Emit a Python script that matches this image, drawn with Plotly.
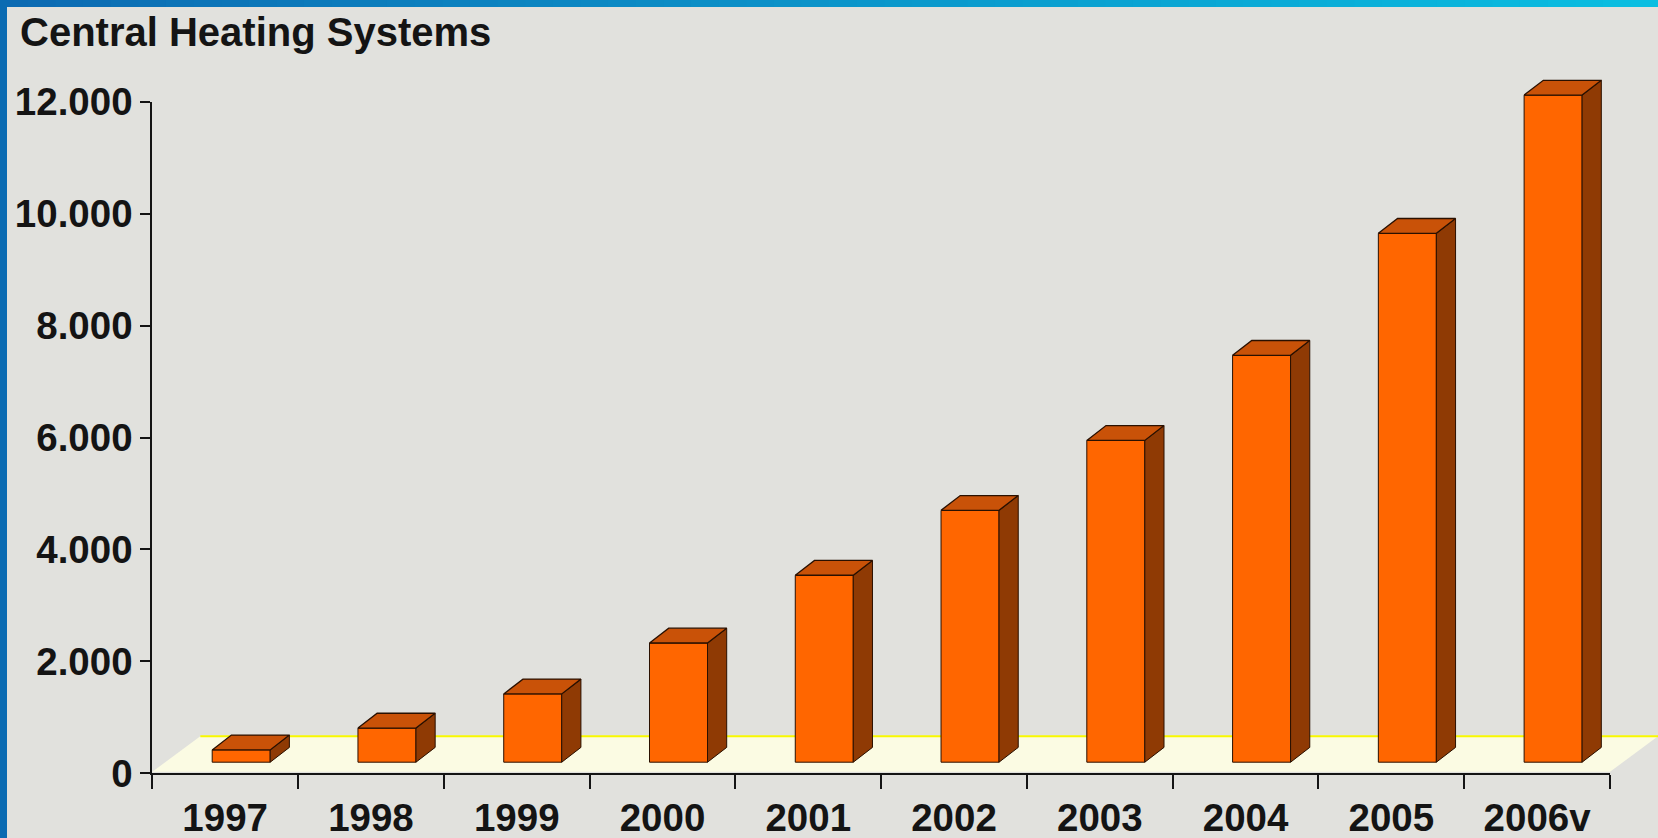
import plotly.graph_objects as go

# ---- data -------------------------------------------------------------
years = ["1997", "1998", "1999", "2000", "2001", "2002", "2003", "2004", "2005", "2006v"]
systems = [220, 610, 1220, 2130, 3340, 4500, 5750, 7270, 9450, 11920]
y_tick_vals = [0, 2000, 4000, 6000, 8000, 10000, 12000]
y_tick_text = ["0", "2.000", "4.000", "6.000", "8.000", "10.000", "12.000"]
title_text = "Central Heating Systems"

# ---- page geometry (pixels) ----------------------------------------
W, H = 1658, 838
AX_L, AX_R = 152.3, 1610.0      # category axis extent
AX_T, AX_B = 101.7, 773.3       # value axis extent (12000 .. 0)
Y_MAX = 12000

n = len(years)
px_cat = (AX_R - AX_L) / n      # pixels per category
px_val = (AX_B - AX_T) / Y_MAX  # pixels per value unit

# oblique 3D projection of the floor depth
FLOOR_DX, FLOOR_DY = 48.0, 37.0
D0, D1 = 0.30, 0.70             # depth band occupied by the columns
FRONT_W_PX = 58.0
FRONT_SHIFT_PX = 16.0

# conversions into overlay-axis units
u = lambda px: px / px_cat
v = lambda px: px / px_val

bar_w = u(FRONT_W_PX)
bar_shift = u(FRONT_SHIFT_PX)
bar_base = v(D0 * FLOOR_DY)
depth_dx = u((D1 - D0) * FLOOR_DX)
depth_dy = v((D1 - D0) * FLOOR_DY)

BG = "#e1e1dd"
FRONT = "#ff6600"
SIDE = "#8f3a04"
TOP = "#c95208"
EDGE = "#2a1000"
TXT = "#141414"
FAMILY = "Liberation Sans, Arial, sans-serif"
TICK_FONT = dict(family=FAMILY, size=38.5, color=TXT, weight="bold")
TITLE_FONT = dict(family=FAMILY, size=40, color=TXT, weight="bold")

fig = go.Figure()

# column front faces
centers = [i + bar_shift for i in range(n)]
fig.add_trace(go.Bar(
    x=centers, y=systems, base=[bar_base] * n, width=[bar_w] * n,
    marker=dict(color=FRONT, line=dict(color=EDGE, width=1)),
    xaxis="x2", yaxis="y2", hoverinfo="skip",
))

# column side and top faces
for c, val in zip(centers, systems):
    xl, xr = c - bar_w / 2, c + bar_w / 2
    top = bar_base + val
    fig.add_trace(go.Scatter(
        x=[xr, xr + depth_dx, xr + depth_dx, xr, xr],
        y=[bar_base, bar_base + depth_dy, top + depth_dy, top, bar_base],
        fill="toself", fillcolor=SIDE, mode="lines",
        line=dict(color=EDGE, width=1), xaxis="x2", yaxis="y2", hoverinfo="skip",
    ))
    fig.add_trace(go.Scatter(
        x=[xl, xr, xr + depth_dx, xl + depth_dx, xl],
        y=[top, top, top + depth_dy, top + depth_dy, top],
        fill="toself", fillcolor=TOP, mode="lines",
        line=dict(color=EDGE, width=1.3), xaxis="x2", yaxis="y2", hoverinfo="skip",
    ))

# invisible trace that carries the category axis
fig.add_trace(go.Scatter(x=years, y=[None] * n, mode="markers", xaxis="x", yaxis="y",
                         hoverinfo="skip"))

shapes = []
# floor
fx0, fx1 = -0.5, n - 0.5
fdx, fdy = u(FLOOR_DX), v(FLOOR_DY)
lift = v(1.5)
shapes.append(dict(
    type="path", xref="x2", yref="y2", layer="below",
    path=f"M{fx0},{lift} L{fx1},{lift} L{fx1 + fdx},{fdy} L{fx0 + fdx},{fdy} Z",
    fillcolor="#fbfbe3", line=dict(width=0),
))
shapes.append(dict(
    type="line", xref="x2", yref="y2", layer="below",
    x0=fx0 + fdx, x1=fx1 + fdx, y0=fdy, y1=fdy,
    line=dict(color="#f8f800", width=2),
))

# blue frame: gradient strip along the top, solid strip down the left
steps = 60
c0, c1 = (11, 106, 178), (10, 190, 225)
for k in range(steps):
    t = k / (steps - 1)
    col = tuple(round(a + (b - a) * t) for a, b in zip(c0, c1))
    shapes.append(dict(
        type="rect", xref="paper", yref="paper", layer="above",
        x0=k / steps, x1=(k + 1) / steps + 0.001, y0=1 - 7 / H, y1=1,
        fillcolor="rgb(%d,%d,%d)" % col, line=dict(width=0),
    ))
shapes.append(dict(
    type="rect", xref="paper", yref="paper", layer="above",
    x0=0, x1=7 / W, y0=0, y1=1, fillcolor="#0a6bb2", line=dict(width=0),
))

fig.update_layout(
    template="none",
    width=W, height=H,
    margin=dict(l=0, r=0, t=0, b=0, autoexpand=False),
    paper_bgcolor=BG, plot_bgcolor="rgba(0,0,0,0)",
    showlegend=False, hovermode=False,
    font=TICK_FONT,
    shapes=shapes,
    xaxis=dict(
        type="category", categoryorder="array", categoryarray=years,
        range=[-0.5, n - 0.5], domain=[AX_L / W, AX_R / W], anchor="y",
        showline=True, linecolor=TXT, linewidth=2, automargin=False,
        ticks="outside", tickson="boundaries", ticklen=14, tickwidth=2, tickcolor=TXT,
        showgrid=False, zeroline=False, tickfont=TICK_FONT, ticklabelstandoff=9,
    ),
    yaxis=dict(
        range=[0, Y_MAX], domain=[(H - AX_B) / H, (H - AX_T) / H], anchor="x",
        tickvals=y_tick_vals, ticktext=y_tick_text, automargin=False,
        showline=True, linecolor=TXT, linewidth=2,
        ticks="outside", ticklen=10, tickwidth=2, tickcolor=TXT,
        showgrid=False, zeroline=False, tickfont=TICK_FONT, ticklabelstandoff=0,
    ),
    xaxis2=dict(
        range=[-0.5 - u(AX_L), n - 0.5 + u(W - AX_R)], domain=[0, 1], anchor="y2",
        visible=False, fixedrange=True, automargin=False,
    ),
    yaxis2=dict(
        range=[-v(H - AX_B), v(AX_B)], domain=[0, 1], anchor="x2",
        visible=False, fixedrange=True, automargin=False,
    ),
    annotations=[dict(
        text=title_text, xref="paper", yref="paper",
        x=18 / W, y=1 - 32 / H, xanchor="left", yanchor="middle",
        showarrow=False, font=TITLE_FONT,
    )],
)

fig.write_html("out.html")
